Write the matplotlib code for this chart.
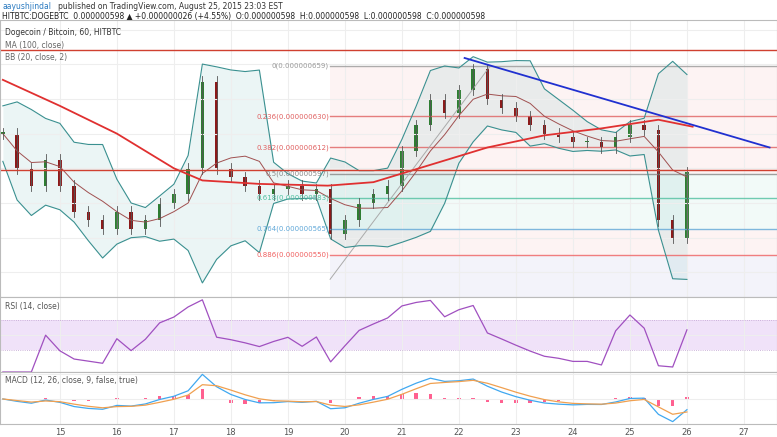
import numpy as np
import pandas as pd
import matplotlib
matplotlib.use("Agg")
import matplotlib.pyplot as plt

# data (price in 1e-9 BTC), sampled every 6 hours
days = np.arange(14.0, 26.01, 0.25)
closes = [620, 600, 590, 605, 590, 575, 570, 565, 575, 565, 570, 580,
          585, 600, 650, 600, 595, 590, 585, 588, 590, 585, 588, 562,
          570, 580, 585, 590, 610, 625, 640, 632, 645, 657, 640, 635,
          630, 625, 620, 618, 615, 615, 612, 618, 625, 622, 570, 560, 598]
closes = closes[:len(days)]
days = days[:len(closes)]
ma_days = [14.0, 15.0, 16.0, 17.0, 17.5, 18.5, 19.7, 20.5, 21.5, 22.5, 23.5, 24.5, 25.5, 26.1]
ma_vals = [651, 636, 620, 600, 593, 591, 590, 592, 602, 612, 619, 623, 628, 624]
fib_ratios = [0, 0.236, 0.382, 0.5, 0.618, 0.764, 0.886]
fib_prices = [659, 630, 612, 597, 583, 565, 550]
fib_colors = ['#999999', '#e06060', '#e06060', '#888888', '#50c0a0', '#60a8d8', '#f06060']
day_ticks = list(range(15, 28))

c = pd.Series(closes, dtype=float)
mid = c.rolling(5, min_periods=1).mean()
sd = c.rolling(5, min_periods=1).std().fillna(8)
upper, lower = mid + 2 * sd, mid - 2 * sd
delta = c.diff().fillna(0)
up = delta.clip(lower=0).ewm(alpha=1/3).mean()
dn = (-delta.clip(upper=0)).ewm(alpha=1/3).mean()
rsi = 100 - 100 / (1 + up / (dn + 1e-9))
macd = c.ewm(span=3).mean() - c.ewm(span=7).mean()
sig = macd.ewm(span=3).mean()

fig = plt.figure(figsize=(7.77, 4.37), dpi=100)
H = 437
def ax_at(top, bot):
    return fig.add_axes([0, 1 - bot / H, 1, (bot - top) / H])
ax = ax_at(20, 297)
ax2 = ax_at(297, 372)
ax3 = ax_at(372, 424)
xl = (13.95, 27.58)
for a in (ax, ax2, ax3):
    a.set_xlim(*xl)
    a.set_xticks(day_ticks)
    a.grid(color='#eeeeee', lw=0.8)
    a.tick_params(length=0, labelleft=False, labelbottom=False)
    for s in a.spines.values():
        s.set_color('#bbbbbb')
ax3.tick_params(labelbottom=True, labelsize=6, colors='#555555', pad=3)

ax.set_ylim(525.8, 685.5)
# Fib region
x0 = 19.74
bands = ['#f06060', '#f06060', '#f06060', '#50c0a0', '#50c0a0', '#f06060']
for i in range(len(fib_prices) - 1):
    ax.fill_between([x0, xl[1]], fib_prices[i], fib_prices[i + 1],
                    color=bands[i], alpha=0.07, lw=0)
ax.fill_between([x0, xl[1]], fib_prices[-1], 525.8, color='#8080d0', alpha=0.09, lw=0)
for r, p, col in zip(fib_ratios, fib_prices, fib_colors):
    ax.plot([x0, xl[1]], [p, p], color=col, lw=1, alpha=0.8)
    ax.text(x0 - 0.02, p, f"{r}({p/1e9:.9f})", fontsize=5, color=col, va='center', ha='right')
ax.plot([x0, 22.55], [536, 659], color='#aaaaaa', lw=0.7)
# BB
ax.fill_between(days, lower, upper, color='#5fb3b3', alpha=0.12, lw=0)
ax.plot(days, upper, color='#3a9090', lw=0.8)
ax.plot(days, lower, color='#3a9090', lw=0.8)
ax.plot(days, mid, color='#a05050', lw=0.7)
# candles
prev = closes[0]
for d, cl in zip(days, closes):
    col = '#2e7d32' if cl >= prev else '#8b1a1a'
    ax.plot([d, d], [min(prev, cl) - 3, max(prev, cl) + 3], color='#555555', lw=0.6)
    ax.bar(d, max(abs(cl - prev), 0.8), bottom=min(prev, cl), width=0.06, color=col)
    prev = cl
ax.plot(ma_days, ma_vals, color='#e03030', lw=1.3)
ax.axhline(668, color='#d04030', lw=1)
ax.axhline(599, color='#d04030', lw=1)
ax.plot([22.1, 27.45], [663.6, 612], color='#2030d0', lw=1.3)
ax.text(0.006, 0.97, "Dogecoin / Bitcoin, 60, HITBTC", transform=ax.transAxes, fontsize=5.5, color='#333333', va='top')
ax.text(0.006, 0.925, "MA (100, close)", transform=ax.transAxes, fontsize=5.5, color='#666666', va='top')
ax.text(0.006, 0.88, "BB (20, close, 2)", transform=ax.transAxes, fontsize=5.5, color='#666666', va='top')

# RSI
ax2.set_ylim(0, 100)
ax2.axhspan(30, 70, color='#e6d0f5', alpha=0.6, lw=0)
ax2.axhline(70, color='#c0a0d0', lw=0.6, ls=':')
ax2.axhline(30, color='#c0a0d0', lw=0.6, ls=':')
ax2.plot(days, rsi, color='#a050c0', lw=0.9)
ax2.text(0.006, 0.93, "RSI (14, close)", transform=ax2.transAxes, fontsize=5.5, color='#555555', va='top')

# MACD
hist = macd - sig
ax3.bar(days, hist, width=0.06, color='#ff6090')
ax3.plot(days, macd, color='#40a8f0', lw=0.9)
ax3.plot(days, sig, color='#f0a050', lw=0.9)
ax3.text(0.006, 0.93, "MACD (12, 26, close, 9, false, true)", transform=ax3.transAxes, fontsize=5.5, color='#555555', va='top')

fig.text(0.003, 0.995, "aayushjindal", color='#2a7ac0', fontsize=5.5, va='top')
fig.text(0.075, 0.995, "published on TradingView.com, August 25, 2015 23:03 EST", color='#333333', fontsize=5.5, va='top')
fig.text(0.003, 0.972, "HITBTC:DOGEBTC  0.000000598 \u25b2 +0.000000026 (+4.55%)  O:0.000000598  H:0.000000598  L:0.000000598  C:0.000000598",
         color='#222222', fontsize=5.5, va='top')
fig.savefig("out.png", dpi=100)
